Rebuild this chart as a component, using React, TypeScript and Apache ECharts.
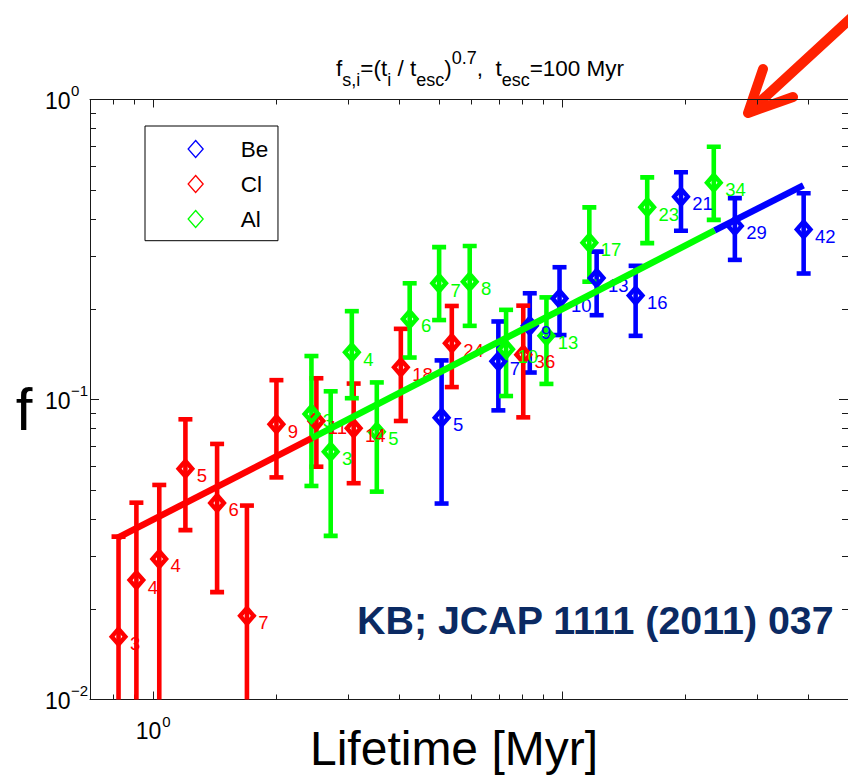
import React, { useEffect, useRef } from 'react';
import * as echarts from 'echarts';

const FONT = '"Liberation Sans", Arial, Helvetica, sans-serif';
const BLUE = '#0000ff';
const RED = '#ff0000';
const GREEN = '#00ff00';

// ---- Be (blue) ----
const beLifetime = [5.07, 6.98, 8.33, 9.85, 12.14, 15.12, 19.52, 26.44, 38.95];
const beFraction = [0.087, 0.134, 0.176, 0.217, 0.254, 0.222, 0.474, 0.379, 0.369];
const beUpper = [0.135, 0.182, 0.226, 0.276, 0.311, 0.279, 0.572, 0.469, 0.487];
const beLower = [0.045, 0.092, 0.123, 0.164, 0.191, 0.163, 0.365, 0.292, 0.263];
const beLabels = ['5', '7', '9', '10', '13', '16', '21', '29', '42'];

// ---- Cl (red) ----
const clLifetime = [0.822, 0.909, 1.034, 1.198, 1.432, 1.694, 2.0, 2.505, 3.09, 4.03, 5.37, 8.03];
const clFraction = [0.0162, 0.025, 0.0294, 0.0588, 0.0452, 0.019, 0.0827, 0.0848, 0.0802, 0.128, 0.154, 0.141];
const clUpper = [0.0349, 0.0453, 0.0519, 0.0859, 0.0711, 0.0443, 0.116, 0.1177, 0.113, 0.172, 0.205, 0.2055];
const clLower = [0.001, 0.0047, 0.0069, 0.0367, 0.0228, 0.001, 0.055, 0.0597, 0.0526, 0.0848, 0.11, 0.0872];
const clLabels = ['3', '4', '4', '5', '6', '7', '9', '11', '14', '18', '24', '36'];

// ---- Al (green) ----
const alLifetime = [2.436, 2.715, 3.058, 3.52, 4.236, 5.0, 5.94, 7.29, 9.15, 11.65, 16.14, 23.48];
const alFraction = [0.0895, 0.067, 0.1436, 0.078, 0.1855, 0.244, 0.247, 0.147, 0.163, 0.333, 0.4375, 0.528];
const alUpper = [0.1396, 0.1065, 0.197, 0.114, 0.244, 0.322, 0.325, 0.199, 0.219, 0.437, 0.55, 0.696];
const alLower = [0.0515, 0.0351, 0.101, 0.0493, 0.138, 0.184, 0.176, 0.1027, 0.1127, 0.247, 0.332, 0.397];
const alLabels = ['3', '3', '4', '5', '6', '7', '8', '10', '13', '17', '23', '34'];

// ---- fit line break points ----
const fitLifetime = [0.815, 2.44, 23.6, 38.9];
const fitFraction = [0.0345, 0.0743, 0.366, 0.517];

// ---- axes ----
const xMin = 0.7;
const xMax = 50;
const yMin = 0.01;
const yMax = 1;
const xMajorTicks = [1, 10];
const xMinorTicks = [0.8, 0.9, 2, 3, 4, 5, 6, 7, 8, 9, 20, 30, 40];
const yMajorTicks = [0.01, 0.1, 1];
const yMinorTicks = [0.02, 0.03, 0.04, 0.05, 0.06, 0.07, 0.08, 0.09, 0.2, 0.3, 0.4, 0.5, 0.6, 0.7, 0.8, 0.9];
const xLabelValues = [1];
const xLabelExponents = ['0'];
const yLabelValues = [1, 0.1, 0.01];
const yLabelExponents = ['0', '\u22121', '\u22122'];

const titleParts: [string, string][] = [
  ['f', 'n'], ['s,i', 'b'], ['=(t', 'n'], ['i', 'b'], [' / t', 'n'], ['esc', 'b'],
  [')', 'n'], ['0.7', 'p'], [',  t', 'n'], ['esc', 'b'], ['=100 Myr', 'n'],
];
const legendNames = ['Be', 'Cl', 'Al'];
const legendColors = [BLUE, RED, GREEN];

const GRID = { left: 90, top: 99.5, width: 764, height: 600 };
const AXIS_COLOR = '#1a1a1a';

let measureCtx: CanvasRenderingContext2D | null = null;
function tw(text: string, size: number, weight = 'normal') {
  if (!measureCtx) measureCtx = document.createElement('canvas').getContext('2d');
  measureCtx!.font = `${weight} ${size}px "Liberation Sans", Arial`;
  return measureCtx!.measureText(text).width;
}

function txt(text: string, x: number, baseline: number, size: number, align = 'left', color = '#000', weight = 'normal') {
  return {
    type: 'text',
    x,
    y: baseline - 0.3465 * size,
    silent: true,
    style: {
      text,
      fill: color,
      fontSize: size,
      fontFamily: FONT,
      fontWeight: weight,
      align,
      verticalAlign: 'middle',
      textAlign: align,
      textVerticalAlign: 'middle',
    },
  };
}

function axisX(gridIndex: number, position: string, ticks: number[], len: number, showLine: boolean) {
  return {
    type: 'log', logBase: 10, min: xMin, max: xMax, gridIndex, position,
    axisLine: { show: showLine, onZero: false, lineStyle: { color: AXIS_COLOR, width: 1 } },
    axisTick: { show: true, inside: true, length: len, customValues: ticks, lineStyle: { color: AXIS_COLOR, width: 1 } },
    axisLabel: { show: false }, splitLine: { show: false }, minorTick: { show: false }, silent: true,
  };
}
function axisY(gridIndex: number, position: string, ticks: number[], len: number, showLine: boolean) {
  return {
    type: 'log', logBase: 10, min: yMin, max: yMax, gridIndex, position,
    axisLine: { show: showLine, onZero: false, lineStyle: { color: AXIS_COLOR, width: 1 } },
    axisTick: { show: true, inside: true, length: len, customValues: ticks, lineStyle: { color: AXIS_COLOR, width: 1 } },
    axisLabel: { show: false }, splitLine: { show: false }, minorTick: { show: false }, silent: true,
  };
}

function errorBars(name: string, color: string, t: number[], lo: number[], hi: number[]) {
  return {
    type: 'custom', name, xAxisIndex: 0, yAxisIndex: 0, clip: true, silent: true,
    data: t.map((v, i) => [v, lo[i], hi[i]]),
    encode: { x: 0, y: [1, 2] },
    renderItem: (_p: any, api: any) => {
      const x = api.value(0);
      const top = api.coord([x, api.value(2)]);
      const bot = api.coord([x, api.value(1)]);
      const half = 7;
      const style = { stroke: color, lineWidth: 4.6, fill: 'none' };
      return {
        type: 'group',
        children: [
          { type: 'line', shape: { x1: top[0], y1: top[1], x2: bot[0], y2: bot[1] }, style },
          { type: 'line', shape: { x1: top[0] - half, y1: top[1], x2: top[0] + half, y2: top[1] }, style },
          { type: 'line', shape: { x1: bot[0] - half, y1: bot[1], x2: bot[0] + half, y2: bot[1] }, style },
        ],
      };
    },
  };
}

function points(name: string, color: string, t: number[], f: number[], labels: string[]) {
  return {
    type: 'scatter', name, xAxisIndex: 0, yAxisIndex: 0, silent: true,
    data: t.map((v, i) => [v, f[i]]),
    symbol: 'diamond', symbolSize: [13.5, 15.5],
    itemStyle: { color: 'rgba(255,255,255,0)', borderColor: color, borderWidth: 4.5, opacity: 1 },
    label: {
      show: true, position: 'right', distance: 2.5, offset: [0, 7],
      formatter: (p: any) => labels[p.dataIndex],
      color, fontSize: 18.5, fontFamily: FONT,
    },
    emphasis: { disabled: true },
  };
}

function fitSegment(name: string, color: string, i: number) {
  return {
    type: 'line', name, xAxisIndex: 0, yAxisIndex: 0, silent: true, z: 3,
    data: [[fitLifetime[i], fitFraction[i]], [fitLifetime[i + 1], fitFraction[i + 1]]],
    symbol: 'none', lineStyle: { color, width: 6.5, cap: 'butt' },
    emphasis: { disabled: true },
  };
}

export default function App() {
  const ref = useRef<HTMLDivElement>(null);
  useEffect(() => {
    const chart = echarts.init(ref.current!, null, { renderer: 'svg' });
    const grids = [0, 1, 2, 3].map(() => ({ ...GRID, show: false, containLabel: false }));
    const option: any = {
      animation: false,
      backgroundColor: '#ffffff',
      grid: grids,
      xAxis: [
        axisX(0, 'bottom', xMajorTicks, 8, true),
        axisX(1, 'bottom', xMinorTicks, 5, false),
        axisX(2, 'top', xMajorTicks, 8, true),
        axisX(3, 'top', xMinorTicks, 5, false),
      ],
      yAxis: [
        axisY(0, 'left', yMajorTicks, 9, true),
        axisY(1, 'left', yMinorTicks, 6, false),
        axisY(2, 'right', yMajorTicks, 9, true),
        axisY(3, 'right', yMinorTicks, 6, false),
      ],
      legend: {
        orient: 'vertical', left: 145, top: 126,
        padding: [10.5, 9.8, 9.2, 42.5],
        itemGap: 10, itemWidth: 15, itemHeight: 17,
        borderColor: '#000', borderWidth: 1, backgroundColor: '#fff',
        selectedMode: false,
        textStyle: { fontSize: 22.5, lineHeight: 22, color: '#000', fontFamily: FONT, padding: [3, 0, 0, 32.5] },
        data: legendNames.map((n, i) => ({
          name: n, icon: 'diamond',
          itemStyle: { color: 'rgba(255,255,255,0)', borderColor: legendColors[i], borderWidth: 1.3 },
        })),
      },
      series: [
        errorBars('Be error', BLUE, beLifetime, beLower, beUpper),
        points('Be', BLUE, beLifetime, beFraction, beLabels),
        errorBars('Cl error', RED, clLifetime, clLower, clUpper),
        points('Cl', RED, clLifetime, clFraction, clLabels),
        errorBars('Al error', GREEN, alLifetime, alLower, alUpper),
        points('Al', GREEN, alLifetime, alFraction, alLabels),
        fitSegment('fit Cl', RED, 0),
        fitSegment('fit Al', GREEN, 1),
        fitSegment('fit Be', BLUE, 2),
      ],
    };
    chart.setOption(option);

    const els: any[] = [];
    // title with sub/superscripts
    let x = 336;
    const sizes: any = { n: 22.5, b: 18, p: 18 };
    const bases: any = { n: 76, b: 86, p: 64 };
    titleParts.forEach(([s, k]) => {
      const size = sizes[k];
      const lead = s.length - s.trimStart().length;
      const leadW = lead ? tw(s.slice(0, lead), size) : 0;
      els.push(txt(s.trimStart(), x + leadW, bases[k], size));
      x += tw(s, size);
    });
    // tick labels
    yLabelValues.forEach((v, i) => {
      const py = chart.convertToPixel({ yAxisIndex: 0 } as any, v) as number;
      els.push(txt('10', 70.5, py + 9.5, 23, 'right'));
      els.push(txt(yLabelExponents[i], 71, py - 3.5, 15, 'left'));
    });
    xLabelValues.forEach((v, i) => {
      const px = chart.convertToPixel({ xAxisIndex: 0 } as any, v) as number;
      const bottom = GRID.top + GRID.height;
      els.push(txt('10', px + 8, bottom + 39.5, 23, 'right'));
      els.push(txt(xLabelExponents[i], px + 9, bottom + 27, 15, 'left'));
    });
    // axis titles
    els.push(txt('f', 24, 430, 60, 'center'));
    els.push(txt('Lifetime [Myr]', 454, 765, 48, 'center'));
    // reference
    els.push(txt('KB; JCAP 1111 (2011) 037', 357, 634, 39.4, 'left', '#0b2a63', 'bold'));
    // arrow
    els.push({
      type: 'line', silent: true,
      shape: { x1: 862, y1: 8, x2: 750, y2: 111 },
      style: { stroke: '#ff2200', lineWidth: 10, lineCap: 'round' },
    });
    els.push({
      type: 'polyline', silent: true,
      shape: { points: [[763, 69], [748, 113], [793, 97]] },
      style: { stroke: '#ff2200', fill: 'none', lineWidth: 10, lineCap: 'round', lineJoin: 'round' },
    });
    chart.setOption({ graphic: { elements: els } });

    return () => chart.dispose();
  }, []);
  return (
    <div
      ref={ref}
      style={{ position: 'absolute', left: 0, top: 0, width: 848, height: 775, background: '#fff', overflow: 'hidden' }}
    />
  );
}
